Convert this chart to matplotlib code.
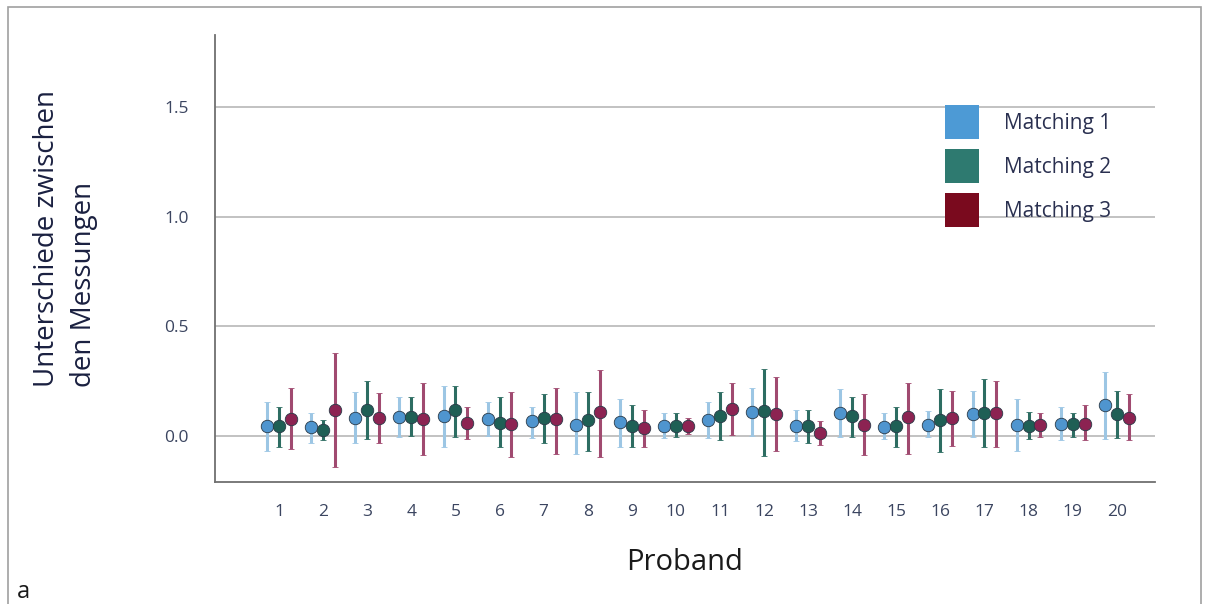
import numpy as np
import matplotlib.pyplot as plt
from matplotlib.patches import Patch, Rectangle

plt.rcParams['font.family'] = ['Open Sans', 'DejaVu Sans']

proband = np.arange(1, 21)
series_names = ['Matching 1', 'Matching 2', 'Matching 3']

# means
m1 = [0.046, 0.040, 0.082, 0.087, 0.091, 0.077, 0.068, 0.050, 0.064, 0.046,
      0.073, 0.110, 0.046, 0.105, 0.042, 0.050, 0.100, 0.050, 0.055, 0.140]
m2 = [0.046, 0.027, 0.118, 0.087, 0.118, 0.060, 0.082, 0.073, 0.046, 0.046,
      0.091, 0.114, 0.046, 0.090, 0.046, 0.073, 0.105, 0.046, 0.055, 0.100]
m3 = [0.077, 0.118, 0.082, 0.077, 0.059, 0.055, 0.077, 0.110, 0.036, 0.046,
      0.123, 0.100, 0.015, 0.050, 0.087, 0.082, 0.105, 0.050, 0.055, 0.082]

# upper / lower ends of the error bars
hi1 = [0.155, 0.105, 0.200, 0.180, 0.230, 0.155, 0.130, 0.200, 0.170, 0.105,
       0.155, 0.220, 0.120, 0.215, 0.105, 0.114, 0.205, 0.170, 0.130, 0.290]
lo1 = [-0.070, -0.030, -0.030, -0.005, -0.050, 0.000, -0.010, -0.080, -0.050, -0.010,
       -0.010, 0.000, -0.025, -0.005, -0.015, -0.005, -0.005, -0.070, -0.020, -0.015]
hi2 = [0.130, 0.073, 0.250, 0.180, 0.230, 0.180, 0.190, 0.200, 0.140, 0.105,
       0.200, 0.305, 0.120, 0.180, 0.130, 0.215, 0.260, 0.110, 0.105, 0.205]
lo2 = [-0.050, -0.020, -0.015, 0.000, -0.005, -0.050, -0.030, -0.070, -0.050, -0.005,
       -0.020, -0.090, -0.030, -0.005, -0.050, -0.075, -0.050, -0.015, -0.005, -0.010]
hi3 = [0.220, 0.380, 0.195, 0.240, 0.130, 0.200, 0.220, 0.300, 0.120, 0.080,
       0.240, 0.270, 0.070, 0.190, 0.240, 0.205, 0.250, 0.105, 0.140, 0.190]
lo3 = [-0.060, -0.140, -0.030, -0.085, -0.015, -0.095, -0.080, -0.095, -0.050, 0.010,
       0.005, -0.070, -0.040, -0.085, -0.080, -0.045, -0.050, -0.005, -0.020, -0.020]

means = [m1, m2, m3]
highs = [hi1, hi2, hi3]
lows = [lo1, lo2, lo3]

marker_colors = ['#4f95cf', '#1f5f55', '#8c2352']
bar_colors = ['#9cc6e4', '#2d6d62', '#a04a70']
legend_colors = ['#4d9ad5', '#2e7a70', '#7a0a1e']
offsets = [-0.27, 0.0, 0.27]

fig = plt.figure(figsize=(12.09, 6.04), dpi=100)
ax = fig.add_axes([0.178, 0.202, 0.777, 0.740])

for i in range(3):
    m = np.array(means[i])
    lo = m - np.array(lows[i])
    hi = np.array(highs[i]) - m
    ax.errorbar(proband + offsets[i], m, yerr=[lo, hi], fmt='o',
                color=bar_colors[i], ecolor=bar_colors[i], elinewidth=2.2,
                capsize=2, capthick=1, markersize=9,
                markerfacecolor=marker_colors[i], markeredgecolor='#2a3a48',
                markeredgewidth=0.6, zorder=3)

ax.set_xlim(-0.45, 20.86)
ax.set_ylim(-0.21, 1.83)
ax.set_yticks([0.0, 0.5, 1.0, 1.5])
ax.set_yticklabels(['0.0', '0.5', '1.0', '1.5'])
ax.set_xticks(proband)
ax.set_xticklabels([str(p) for p in proband])
ax.tick_params(axis='both', length=0, labelsize=12.5, colors='#3b4560')
ax.tick_params(axis='y', pad=19)
ax.tick_params(axis='x', pad=16)
ax.yaxis.grid(True, color='#b8b8b8', linewidth=1.2)
ax.set_axisbelow(True)
for s in ['top', 'right']:
    ax.spines[s].set_visible(False)
for s in ['left', 'bottom']:
    ax.spines[s].set_color('#707070')
    ax.spines[s].set_linewidth(1.3)

ax.set_xlabel('Proband', fontsize=21, color='#1a1a1a', labelpad=20)
fig.text(0.054, 0.36, 'Unterschiede zwischen\nden Messungen', rotation=90,
         ha='center', va='bottom', fontsize=20, color='#1a2040',
         linespacing=1.45, multialignment='left')

handles = [Patch(facecolor=c, edgecolor='none') for c in legend_colors]
fig.legend(handles, series_names, loc='upper left',
           bbox_to_anchor=(0.766, 0.857), frameon=False, fontsize=15,
           handlelength=1.63, handleheight=2.14, labelspacing=0.48,
           handletextpad=1.2, labelcolor='#2a3050')

fig.text(0.014, 0.01, 'a', fontsize=17, color='#1a1a1a')
fig.patches.append(Rectangle((0.007, -0.01), 0.986, 0.998, transform=fig.transFigure,
                             fill=False, edgecolor='#a0a0a0', linewidth=1.2))

fig.savefig('out.png', dpi=100)
